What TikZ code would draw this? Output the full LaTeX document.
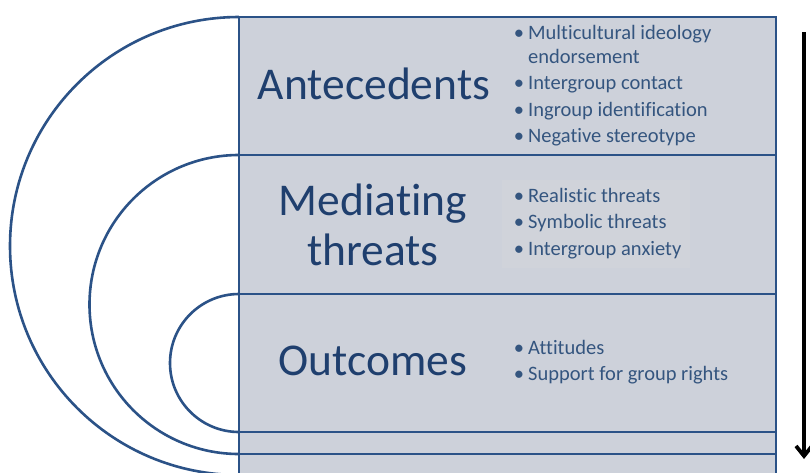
\documentclass[tikz,border=0pt]{standalone}
\usepackage{fontspec}
\setmainfont[Ligatures=NoCommon]{Carlito}
\usetikzlibrary{arrows.meta}
\definecolor{panel}{HTML}{CDD1DA}
\definecolor{faintbox}{HTML}{D0D3DA}
\definecolor{edge}{HTML}{2B5287}
\definecolor{bigtext}{HTML}{1F3F6E}
\definecolor{smalltext}{HTML}{34557F}
\tikzset{
  edgeline/.style={draw=edge, line width=2.6pt},
  biglabel/.style={text=bigtext, font=\fontsize{45.5}{54}\selectfont, anchor=base, inner sep=0pt},
  item/.style={text=smalltext, font=\fontsize{20.5}{24}\selectfont, anchor=base west, inner sep=0pt},
  flow/.style={draw=black, line width=3.8pt, -{Straight Barb[length=10pt,width=16pt]}}
}
\newcommand{\bul}{\makebox[0pt][r]{•\hspace{4pt}}}
\begin{document}
\begin{tikzpicture}[x=1pt,y=-1pt]
\clip (0,0) rectangle (810,472);
\fill[white] (0,0) rectangle (810,472);
% panel
\fill[panel] (239,17) rectangle (776,480);
\fill[faintbox] (502,180) rectangle (690,268);
\draw[edgeline] (239,17) -- (776,17) -- (776,480);
\draw[edgeline] (239,17) -- (239,480);
\draw[edgeline] (239,155) -- (776,155);
\draw[edgeline] (239,294) -- (776,294);
\draw[edgeline] (239,432) -- (776,432);
\draw[edgeline] (239,454) -- (776,454);
% arcs
\draw[edgeline] (239,17) arc[start angle=270, end angle=90, radius=229];
\draw[edgeline] (239,155) arc[start angle=270, end angle=90, radius=149.5];
\draw[edgeline] (239,294) arc[start angle=270, end angle=90, radius=69];
% big labels
\node[biglabel] (ante) at (374,99) {Antecedents};
\node[biglabel] (med1) at (373,215) {Mediating};
\node[biglabel] (med2) at (373,265) {threats};
\node[biglabel] (outc) at (373,375) {Outcomes};
% antecedent items
\node[item] (a1) at (528,39) {\bul Multicultural ideology};
\node[item] (a1b) at (528,63) {endorsement};
\node[item] (a2) at (528,89) {\bul Intergroup contact};
\node[item] (a3) at (528,116) {\bul Ingroup identification};
\node[item] (a4) at (528,142) {\bul Negative stereotype};
% mediating items
\node[item] (m1) at (528,202) {\bul Realistic threats};
\node[item] (m2) at (528,228.5) {\bul Symbolic threats};
\node[item] (m3) at (528,255) {\bul Intergroup anxiety};
% outcome items
\node[item] (o1) at (528,354) {\bul Attitudes};
\node[item] (o2) at (528,380) {\bul Support for group rights};
% arrow
\coordinate (atop) at (804,32);
\coordinate (abot) at (804,459);
\draw[flow] (atop) -- (abot);
\end{tikzpicture}
\end{document}
